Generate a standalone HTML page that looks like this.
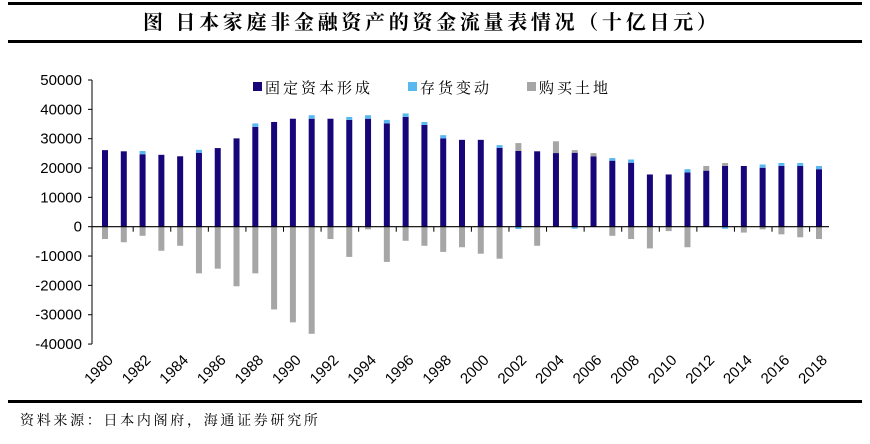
<!DOCTYPE html>
<html><head><meta charset="utf-8"><style>
body{margin:0;background:#fff;width:870px;height:439px;overflow:hidden;font-family:"Liberation Sans","Noto Sans CJK SC",sans-serif}
</style></head><body>
<svg id="c" width="870" height="439" xmlns="http://www.w3.org/2000/svg">
<rect x="8" y="2" width="854" height="3" fill="#000"/>
<text x="143" y="29" font-size="20" font-weight="bold" letter-spacing="3.7" font-family="'Noto Serif CJK SC','Noto Sans CJK SC',serif">图 日本家庭非金融资产的资金流量表情况（十亿日元）</text>
<rect x="8" y="40" width="854" height="3" fill="#000"/>
<rect x="8" y="400" width="854" height="3" fill="#000"/>
<text x="20" y="425" font-size="14" letter-spacing="2.7" font-family="'Noto Serif CJK SC','Noto Sans CJK SC',serif">资料来源：日本内阁府，海通证券研究所</text>
<g>
<rect x="253" y="82" width="9" height="9" fill="#16067a"/>
<text x="265" y="93" font-size="15" letter-spacing="3" font-family="'Noto Serif CJK SC','Noto Sans CJK SC',serif">固定资本形成</text>
<rect x="408" y="82" width="9" height="9" fill="#5ab8f0"/>
<text x="420" y="93" font-size="15" letter-spacing="3" font-family="'Noto Serif CJK SC','Noto Sans CJK SC',serif">存货变动</text>
<rect x="527" y="82" width="9" height="9" fill="#a6a6a6"/>
<text x="539" y="93" font-size="15" letter-spacing="3" font-family="'Noto Serif CJK SC','Noto Sans CJK SC',serif">购买土地</text>
</g>
<g id="plot"></g>
</svg>
<script>
const years=[];for(let y=1980;y<=2018;y++)years.push(String(y));
const fixedCap=[26.1,25.7,24.7,24.5,24.0,25.2,26.8,30.1,34.0,35.7,36.8,36.8,36.8,36.4,36.8,35.2,37.4,34.7,30.1,29.6,29.6,26.9,25.8,25.7,25.1,25.2,24.0,22.5,21.8,17.8,17.8,18.5,19.1,20.7,20.7,20.1,20.7,20.7,19.6];
const inventory=[0,0,1.1,0,0,1.0,0,0,1.2,0,0,1.2,0,1.0,1.2,1.2,1.2,1.0,1.1,0,0,0.9,-0.8,0,0,-0.7,0,0.9,1.1,0,0,1.1,0,-0.7,0,1.1,1.0,1.0,1.1];
const land=[-4.2,-5.3,-3.1,-8.2,-6.5,-15.9,-14.3,-20.3,-15.9,-28.2,-32.6,-36.5,-4.2,-10.3,-0.9,-12.0,-4.8,-6.5,-8.6,-7.0,-9.2,-10.9,2.7,-6.5,4.0,0.9,1.1,-3.1,-4.2,-7.4,-1.5,-7.0,1.6,1.0,-2.0,-0.9,-2.6,-3.6,-4.2];
const yTicks=[50000,40000,30000,20000,10000,0,-10000,-20000,-30000,-40000];
const NS='http://www.w3.org/2000/svg';
const g=document.getElementById('plot');
const y0=226.7,pxPer=146.7/50000;
const yS=v=>y0-v*pxPer;
const step=(819-105)/38;
const xS=i=>105+i*step;
function mk(t,a){const e=document.createElementNS(NS,t);for(const k in a)e.setAttribute(k,a[k]);g.appendChild(e);return e;}
let ax=mk('line',{x1:92,y1:yS(50000),x2:92,y2:yS(-40000),stroke:'#000','stroke-width':1});


yTicks.forEach(v=>{
 const t=mk('line',{x1:88,x2:92,y1:yS(v),y2:yS(v),stroke:'#000'});
 
 
 const l=mk('text',{x:82,y:yS(v)+5,'text-anchor':'end','font-size':15});
 l.textContent=v;
 
 
});
const series=[{d:fixedCap,c:'#16067a',n:'bar-fixed'},{d:inventory,c:'#5ab8f0',n:'bar-inventory'},{d:land,c:'#a6a6a6',n:'bar-land'}];
const bw=6;
years.forEach((yr,i)=>{
 let pos=0,neg=0;
 series.forEach(s=>{
  const v=s.d[i]*1000;if(!v)return;
  let a,b;
  if(v>0){a=pos;b=pos+v;pos=b;}else{a=neg;b=neg+v;neg=b;}
  const top=yS(Math.max(a,b)),bot=yS(Math.min(a,b));
  const r=mk('rect',{x:xS(i)-bw/2,y:top,width:bw,height:bot-top,fill:s.c});
  
  
 });
 if(i%2==0){
  const l=mk('text',{x:0,y:0,'text-anchor':'end','font-size':15,transform:`translate(${xS(i)+9},${361}) rotate(-45)`});
  l.textContent=yr;
  
  
 }
 if(i%2==1){
  const t=mk('line',{x1:xS(i)+step/2,x2:xS(i)+step/2,y1:y0,y2:y0+5,stroke:'#000'});
  
  
 }
});
const xa=mk('line',{x1:92,x2:829,y1:y0,y2:y0,stroke:'#000','stroke-width':1.2});


</script>
</body></html>
